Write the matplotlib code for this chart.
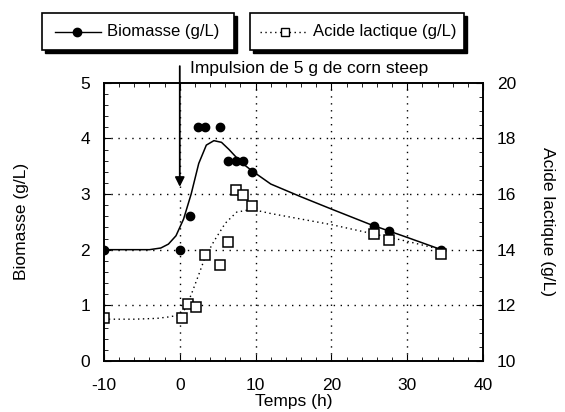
import matplotlib
matplotlib.use("Agg")
import matplotlib.pyplot as plt
from matplotlib.patches import Rectangle
from matplotlib.lines import Line2D

plt.rcParams['font.family'] = ['Liberation Sans', 'DejaVu Sans']
plt.rcParams['axes.unicode_minus'] = False

# measured points
bio_t = [-10, 0, 1.3, 2.4, 3.3, 5.3, 6.4, 7.4, 8.4, 9.5, 25.6, 27.6, 34.5]
bio_v = [2.0, 2.0, 2.6, 4.2, 4.2, 4.2, 3.6, 3.6, 3.6, 3.4, 2.43, 2.33, 2.0]
lac_t = [-10, 0.3, 1.1, 2.2, 3.3, 5.3, 6.3, 7.4, 8.4, 9.5, 25.6, 27.6, 34.5]
lac_v = [11.56, 11.56, 12.05, 11.93, 13.8, 13.45, 14.29, 16.15, 15.97, 15.58, 14.57, 14.35, 13.85]

# fitted curves
bio_fit_t = [-10, -4, -2.5, -1.5, -0.5, 0.5, 1.5, 2.5, 3.5, 4.5, 5.5, 6.5, 8, 9.5, 12, 16, 20, 25, 30, 34.5]
bio_fit_v = [2.0, 2.0, 2.03, 2.1, 2.25, 2.55, 3.0, 3.55, 3.88, 3.96, 3.93, 3.8, 3.58, 3.42, 3.18, 2.95, 2.73, 2.46, 2.22, 2.0]
lac_fit_t = [-10, -6, -3, -1.5, 0, 0.8, 1.6, 2.5, 3.3, 4.5, 6, 7.5, 9.5, 12, 16, 20, 25, 30, 34.5]
lac_fit_v = [11.5, 11.5, 11.53, 11.58, 11.65, 11.9, 12.45, 13.1, 13.7, 14.3, 14.95, 15.35, 15.45, 15.3, 15.1, 14.9, 14.6, 14.3, 14.0]

fs = 12.5

fig = plt.figure(figsize=(5.65, 4.12), dpi=100)
ax = fig.add_axes([0.184, 0.124, 0.671, 0.675])
ax2 = ax.twinx()

ax.set_xlim(-10, 40)
ax.set_ylim(0, 5)
ax2.set_ylim(10, 20)

ax.set_xticks([-10, 0, 10, 20, 30, 40])
ax.set_xticks(range(-10, 41, 2), minor=True)
ax.set_yticks([0, 1, 2, 3, 4, 5])
ax.set_yticks([i * 0.2 for i in range(26)], minor=True)
ax2.set_yticks([10, 12, 14, 16, 18, 20])
ax2.set_yticks([10 + i * 0.5 for i in range(21)], minor=True)

for a in (ax, ax2):
    a.tick_params(which='both', direction='in', labelsize=fs, pad=10)
    a.tick_params(which='major', length=5)
    a.tick_params(which='minor', length=3)
    for s in a.spines.values():
        s.set_linewidth(1.2)
ax.tick_params(which='both', top=True)
ax.tick_params(axis='x', pad=12)

for gx in [0, 10, 20, 30]:
    ax.axvline(gx, color='black', linestyle=(0, (1, 4)), linewidth=1.0, zorder=0)
for gy in [1, 2, 3, 4]:
    ax.axhline(gy, color='black', linestyle=(0, (1, 4)), linewidth=1.0, zorder=0)

ax.plot(bio_fit_t, bio_fit_v, color='black', linewidth=1.1)
ax.plot(bio_t, bio_v, 'o', color='black', markersize=6)
ax2.plot(lac_fit_t, lac_fit_v, color='black', linewidth=1.0, linestyle=(0, (1, 2.5)))
ax2.plot(lac_t, lac_v, 's', markerfacecolor='white', markeredgecolor='black',
         markersize=7, markeredgewidth=1.1)

ax.set_xlabel('Temps (h)', fontsize=fs, labelpad=1)
ax.set_ylabel('Biomasse (g/L)', fontsize=fs, labelpad=37)
ax2.set_ylabel('Acide lactique (g/L)', fontsize=fs, rotation=270, labelpad=28)

ax.annotate('', xy=(0, 3.08), xytext=(0, 5.35),
            arrowprops=dict(arrowstyle='-|>', color='black', lw=1.3, mutation_scale=14),
            annotation_clip=False)
ax.text(17, 5.13, 'Impulsion de 5 g de corn steep', fontsize=fs, ha='center', va='bottom')

# legend boxes with shadows
def legend_box(x0, x1, y0, y1, label, style, marker, mfc, lx0, lx1, mx, tx):
    shadow = Rectangle((x0 + 0.005, y0 - 0.007), x1 - x0, y1 - y0, transform=fig.transFigure,
                       facecolor='black', edgecolor='black')
    box = Rectangle((x0, y0), x1 - x0, y1 - y0, transform=fig.transFigure,
                    facecolor='white', edgecolor='black', linewidth=1.2)
    fig.add_artist(shadow)
    fig.add_artist(box)
    ym = (y0 + y1) / 2
    fig.add_artist(Line2D([lx0 / 565, lx1 / 565], [ym, ym], transform=fig.transFigure,
                          color='black', linestyle=style, linewidth=1.0))
    fig.add_artist(Line2D([mx / 565], [ym], transform=fig.transFigure, marker=marker,
                          markerfacecolor=mfc, markeredgecolor='black', markersize=6))
    fig.text(tx / 565, ym, label, fontsize=12, va='center', ha='left')

legend_box(0.074, 0.414, 0.878, 0.968, 'Biomasse (g/L)', '-', 'o', 'black', 55, 101, 77, 107)
legend_box(0.443, 0.821, 0.878, 0.968, 'Acide lactique (g/L)', (0, (1, 2.5)), 's', 'white',
           260, 308, 285, 313)

fig.savefig('out.png', dpi=100)
